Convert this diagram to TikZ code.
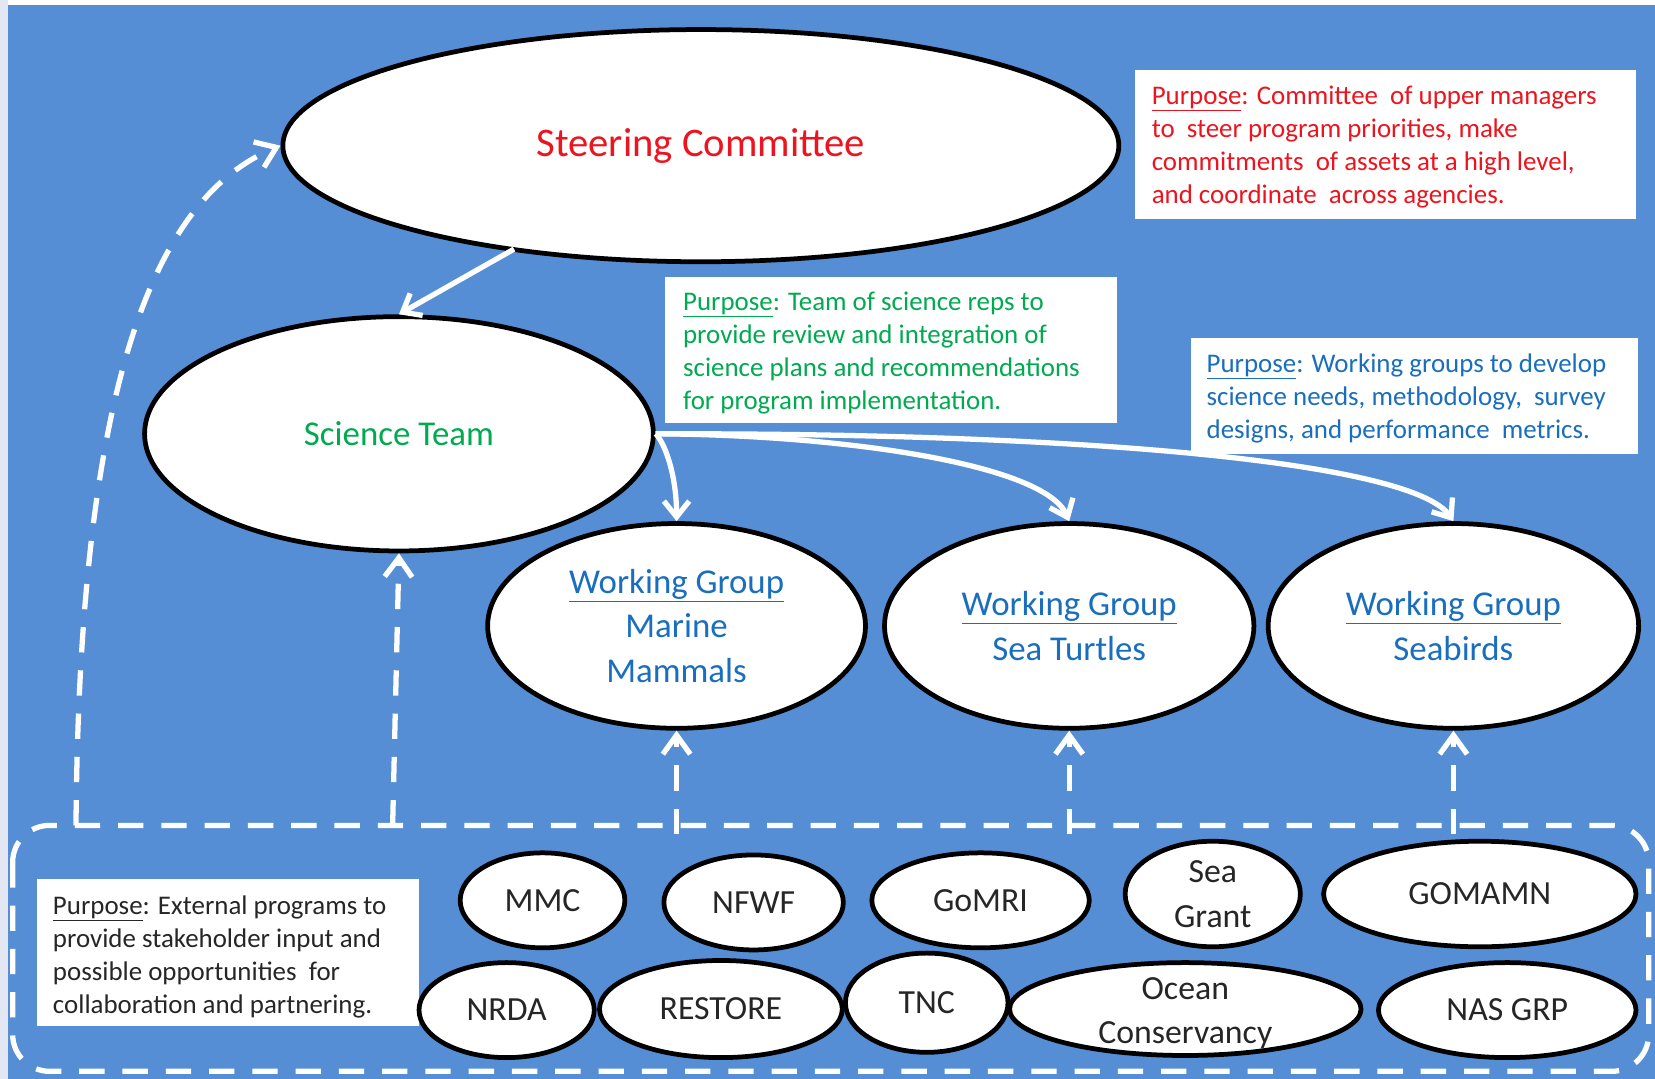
\documentclass[tikz,border=0pt]{standalone}
\usepackage{fontspec}
\setmainfont{Carlito}
\usetikzlibrary{shapes.geometric,arrows.meta}
\definecolor{bgblue}{RGB}{85,142,213}
\definecolor{sidelav}{RGB}{226,231,243}
\definecolor{scred}{RGB}{236,20,30}
\definecolor{stgreen}{RGB}{0,170,80}
\definecolor{wgblue}{RGB}{25,110,190}
\begin{document}
\begin{tikzpicture}[x=1pt,y=-1pt,
  oval/.style={ellipse,draw=black,line width=4.5pt,fill=white,inner sep=0pt},
  purposebox/.style={rectangle,fill=white,inner sep=0pt,anchor=north west},
  purposetext/.style={anchor=west,align=left,inner sep=0pt,font=\fontsize{25.5}{31.3}\selectfont},
  smalltxt/.style={font=\fontsize{32}{42}\selectfont,align=center,text=black!85},
  wgtxt/.style={font=\fontsize{33}{42}\selectfont,align=center,text=wgblue},
  solidarrow/.style={draw=white,line width=5pt,-{Straight Barb[length=15pt,width=24pt,line width=5pt]}},
  dasharrow/.style={draw=white,line width=5pt,dash pattern=on 24pt off 17pt,-{Straight Barb[length=18pt,width=26pt,line width=5pt]}},
  dashline/.style={draw=white,line width=5pt,dash pattern=on 24pt off 17pt}]
\useasboundingbox (0,0) rectangle (1568,1022);
\fill[white] (0,0) rectangle (1568,1022);
\fill[sidelav] (0,0) rectangle (8,1022);
\fill[bgblue] (8,5) rectangle (1568,1022);

% top-level ovals
\node[oval,minimum width=792pt,minimum height=220pt] (sc) at (664,138)
  {\fontsize{38.5}{44}\selectfont\color{scred}Steering Committee};
\node[oval,minimum width=482pt,minimum height=222pt] (st) at (378,411)
  {\fontsize{33}{40}\selectfont\color{stgreen}Science Team};
\node[oval,minimum width=358pt,minimum height=194pt,wgtxt] (wg1) at (641,593)
  {\underline{Working Group}\\Marine\\Mammals};
\node[oval,minimum width=350pt,minimum height=194pt,wgtxt] (wg2) at (1013,593)
  {\underline{Working Group}\\Sea Turtles};
\node[oval,minimum width=351pt,minimum height=194pt,wgtxt] (wg3) at (1377,593)
  {\underline{Working Group}\\Seabirds};

% purpose boxes
\node[purposebox,minimum width=475pt,minimum height=141pt] (pbred) at (1075,66) {};
\node[purposetext,text=scred] (ptred) at ([xshift=16pt,yshift=-3pt]pbred.west)
  {\underline{Purpose}: Committee~ of upper managers\\to~ steer program priorities, make\\commitments~ of assets at a high level,\\and coordinate~ across agencies.};
\node[purposebox,minimum width=428pt,minimum height=139pt] (pbgreen) at (630,262) {};
\node[purposetext,text=stgreen] (ptgreen) at ([xshift=17pt,yshift=-3pt]pbgreen.west)
  {\underline{Purpose}: Team of science reps to\\provide review and integration of\\science plans and recommendations\\for program implementation.};
\node[purposebox,minimum width=424pt,minimum height=110pt] (pbblue) at (1128,320) {};
\node[purposetext,text=wgblue] (ptblue) at ([xshift=15pt,yshift=-2pt]pbblue.west)
  {\underline{Purpose}: Working groups to develop\\science needs, methodology,~ survey\\designs, and performance~ metrics.};

% bottom dashed group
\draw[dashline,rounded corners=35pt] (12,782) rectangle (1562,1015);
\coordinate (gtl) at (72,782);
\coordinate (gst) at (372,782);
\coordinate (gw1) at (641,790);
\coordinate (gw2) at (1013,790);
\coordinate (gw3) at (1377,790);

\node[purposebox,minimum width=362pt,minimum height=139pt] (pbblack) at (35,833) {};
\node[purposetext,text=black!85] (ptblack) at ([xshift=15pt,yshift=-4pt]pbblack.west)
  {\underline{Purpose}: External programs to\\provide stakeholder input and\\possible opportunities~ for\\collaboration and partnering.};

\node[oval,minimum width=156pt,minimum height=90pt,smalltxt] (mmc) at (514,853) {MMC};
\node[oval,minimum width=170pt,minimum height=90pt,smalltxt] (nfwf) at (714,855) {NFWF};
\node[oval,minimum width=206pt,minimum height=90pt,smalltxt] (gomri) at (929,853) {GoMRI};
\node[oval,minimum width=166pt,minimum height=100pt,smalltxt] (seagrant) at (1149,847) {Sea\\Grant};
\node[oval,minimum width=296pt,minimum height=100pt,smalltxt] (gomamn) at (1402,847) {GOMAMN};
\node[oval,minimum width=166pt,minimum height=90pt,smalltxt] (nrda) at (480,957) {NRDA};
\node[oval,minimum width=230pt,minimum height=92pt,smalltxt] (restore) at (683,956) {RESTORE};
\node[oval,minimum width=154pt,minimum height=94pt,smalltxt] (tnc) at (878,950) {TNC};
\node[oval,minimum width=333pt,minimum height=88pt,smalltxt] (ocean) at (1123,956) {};
\node[smalltxt,inner sep=0pt] (oceantxt) at (1123,960) {Ocean\\Conservancy};
\node[oval,minimum width=244pt,minimum height=90pt,smalltxt] (nas) at (1428,957) {NAS GRP};

% solid arrows
\draw[solidarrow] (487,236) -- (st.north);
\draw[solidarrow] (st.east) .. controls (630,420) and (641,450) .. (wg1.north);
\draw[solidarrow] (st.east) .. controls (800,412) and (990,440) .. (wg2.north);
\draw[solidarrow] (st.east) .. controls (1050,410) and (1340,440) .. (wg3.north);

% dashed arrows
\draw[dasharrow] (gtl) .. controls (75,380) and (140,190) .. (sc.west);
\draw[dasharrow] (gst) -- (st.south);
\draw[dasharrow] (gw1) -- (wg1.south);
\draw[dasharrow] (gw2) -- (wg2.south);
\draw[dasharrow] (gw3) -- (wg3.south);
\end{tikzpicture}
\end{document}
